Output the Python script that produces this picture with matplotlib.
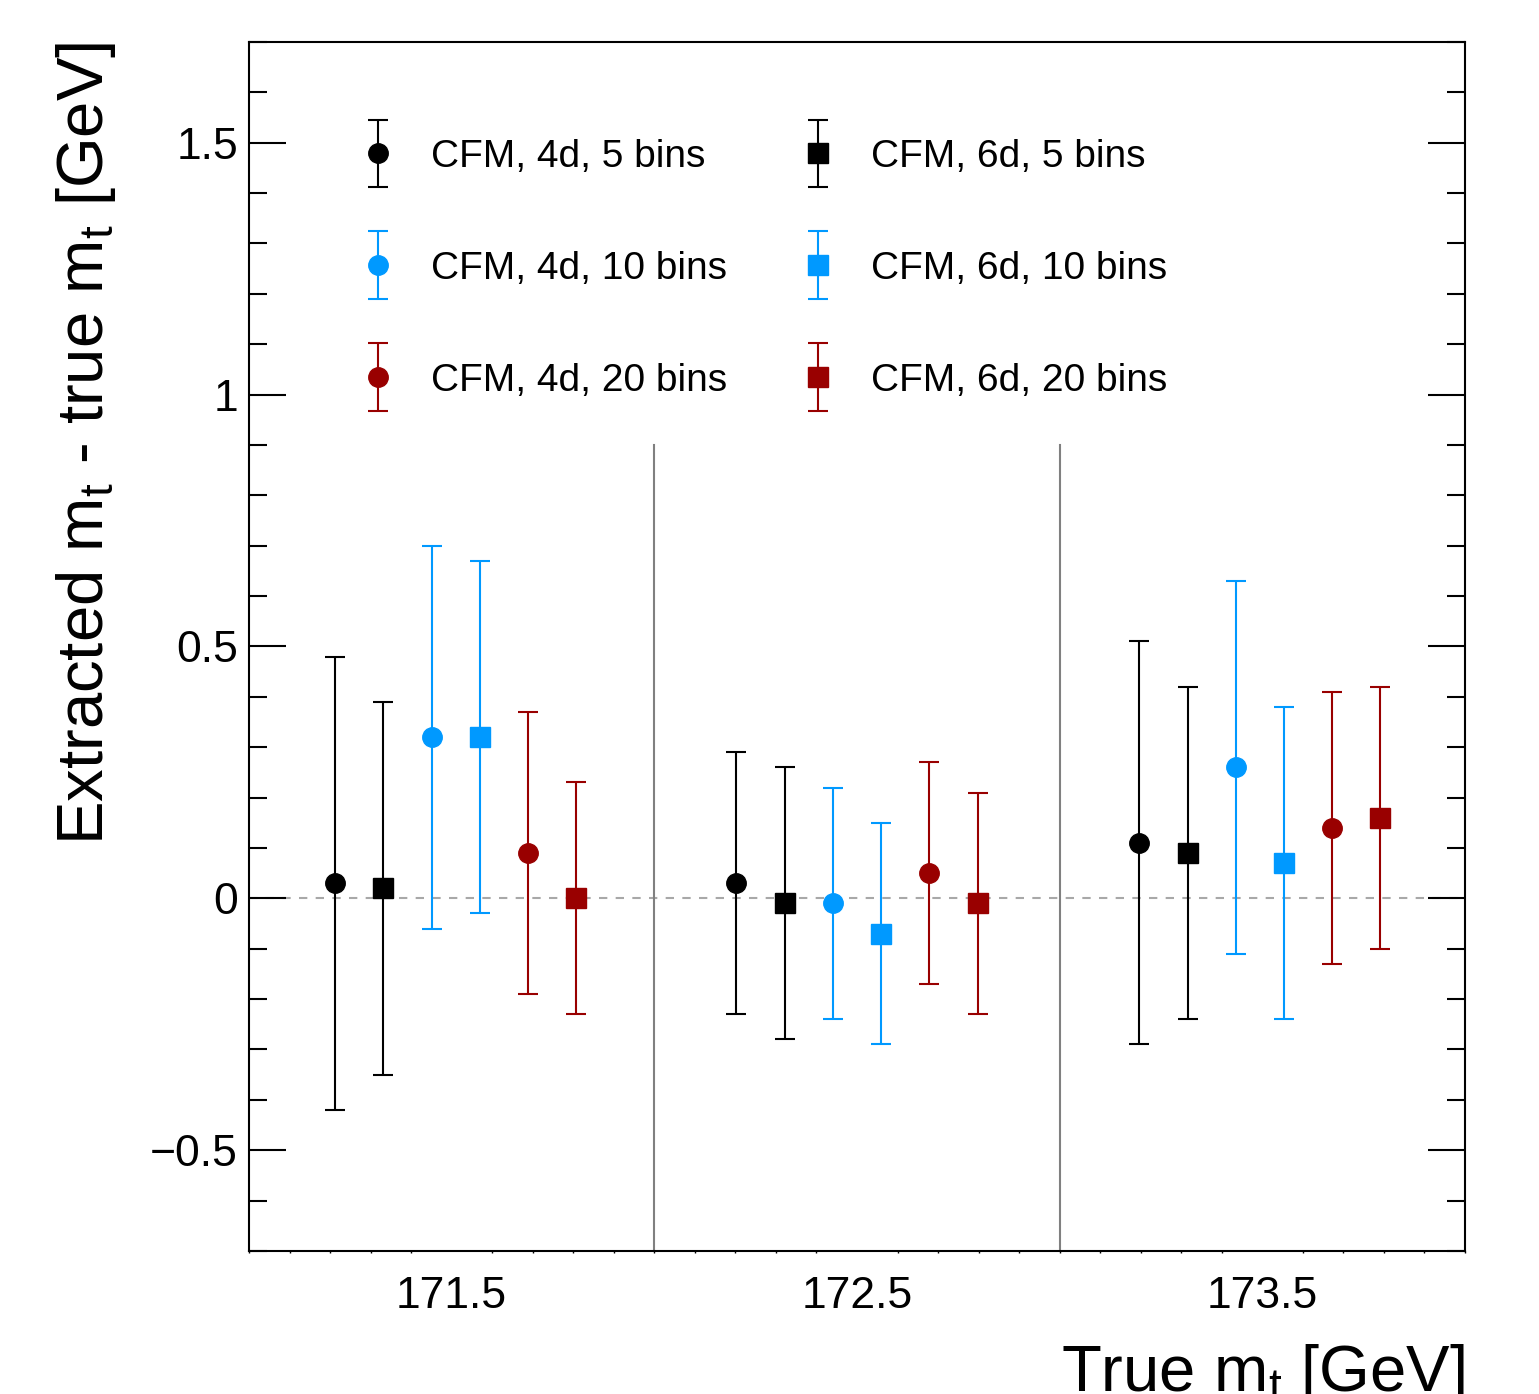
import numpy as np
import matplotlib
matplotlib.use("Agg")
import matplotlib.pyplot as plt
from matplotlib.ticker import MultipleLocator, FixedLocator
from matplotlib.legend_handler import HandlerErrorbar

plt.rcParams['font.family'] = ['Liberation Sans', 'DejaVu Sans']
plt.rcParams['mathtext.fontset'] = 'custom'
plt.rcParams['mathtext.rm'] = 'Liberation Sans'
plt.rcParams['mathtext.it'] = 'Liberation Sans:italic'

# === DATA ===
true_mass = [171.5, 172.5, 173.5]

labels = ["CFM, 4d, 5 bins", "CFM, 6d, 5 bins",
          "CFM, 4d, 10 bins", "CFM, 6d, 10 bins",
          "CFM, 4d, 20 bins", "CFM, 6d, 20 bins"]

cfm4d_5 = [0.03, 0.03, 0.11]
cfm4d_5_err = [0.45, 0.26, 0.40]
cfm6d_5 = [0.02, -0.01, 0.09]
cfm6d_5_err = [0.37, 0.27, 0.33]
cfm4d_10 = [0.32, -0.01, 0.26]
cfm4d_10_err = [0.38, 0.23, 0.37]
cfm6d_10 = [0.32, -0.07, 0.07]
cfm6d_10_err = [0.35, 0.22, 0.31]
cfm4d_20 = [0.09, 0.05, 0.14]
cfm4d_20_err = [0.28, 0.22, 0.27]
cfm6d_20 = [0.00, -0.01, 0.16]
cfm6d_20_err = [0.23, 0.22, 0.26]

values = [cfm4d_5, cfm6d_5, cfm4d_10, cfm6d_10, cfm4d_20, cfm6d_20]
errors = [cfm4d_5_err, cfm6d_5_err, cfm4d_10_err, cfm6d_10_err, cfm4d_20_err, cfm6d_20_err]

# === STYLE ===
BLACK = "#000000"
BLUE = "#0099ff"
RED = "#990000"
colors = [BLACK, BLACK, BLUE, BLUE, RED, RED]
markers = ["o", "s", "o", "s", "o", "s"]
step = 0.119
group_shift = [0.01, 0.0, -0.006]   # small per-group x nudges seen in the reference

fig = plt.figure(figsize=(15.39, 13.94), dpi=100)
ax = fig.add_axes([0.1618, 0.1026, 0.9519 - 0.1618, 0.9699 - 0.1026])

ax.axhline(0, color="#a8a8a8", lw=1.5, ls=(0, (4, 4)), zorder=1)
for xv in [172, 173]:
    ax.plot([xv, xv], [-0.7, 0.9], color="#808080", lw=1.5, zorder=1)

handles = {}
for i in range(6):
    xs = np.array(true_mass) + np.array(group_shift) + (i - 2.5) * step
    h = ax.errorbar(xs, values[i], yerr=errors[i], fmt=markers[i], color=colors[i],
                    mec=colors[i], ms=14, elinewidth=1.5, capsize=7, capthick=1.5,
                    zorder=3)
    handles[labels[i]] = h

order = ["CFM, 4d, 5 bins", "CFM, 4d, 10 bins", "CFM, 4d, 20 bins",
         "CFM, 6d, 5 bins", "CFM, 6d, 10 bins", "CFM, 6d, 20 bins"]
leg = ax.legend([handles[k] for k in order], order, ncol=2, frameon=False,
                fontsize=28, loc="upper left",
                bbox_to_anchor=(358.5 / 1539, 1 - 139 / 1394),
                bbox_transform=fig.transFigure, borderaxespad=0, borderpad=0,
                handlelength=1.0, handletextpad=0.86, labelspacing=1.95,
                columnspacing=1.85,
                handler_map={type(handles[order[0]]): HandlerErrorbar(yerr_size=0.87)})

ax.set_xlim(171, 174)
ax.set_ylim(-0.7, 1.7)

ax.xaxis.set_major_locator(FixedLocator(true_mass))
ax.xaxis.set_minor_locator(MultipleLocator(0.1))
ax.yaxis.set_minor_locator(MultipleLocator(0.1))
ax.set_yticks([-0.5, 0, 0.5, 1, 1.5])
ax.set_yticklabels(["\u22120.5", "0", "0.5", "1", "1.5"])
ax.set_xticklabels(["171.5", "172.5", "173.5"])

ax.tick_params(axis="y", which="major", direction="in", length=26.6, width=1.5,
               left=True, right=True, labelsize=32, pad=8)
ax.tick_params(axis="y", which="minor", direction="in", length=13, width=1.5,
               left=True, right=True)
ax.tick_params(axis="x", which="major", length=0, labelsize=32, pad=18)
ax.tick_params(axis="x", which="minor", direction="out", length=1.2, width=1.0)
ax.set_axisbelow(False)
for sp in ax.spines.values():
    sp.set_linewidth(1.5)

ax.set_xlabel("True m$_{\\mathrm{t}}$ [GeV]", fontsize=47, loc="right")
ax.xaxis.set_label_coords(1.0, -0.075)
ax.set_ylabel("Extracted m$_{\\mathrm{t}}$ - true m$_{\\mathrm{t}}$ [GeV]", fontsize=47, loc="top")
ax.yaxis.set_label_coords(-0.108, 1.0)

fig.savefig("out.png", dpi=100)
